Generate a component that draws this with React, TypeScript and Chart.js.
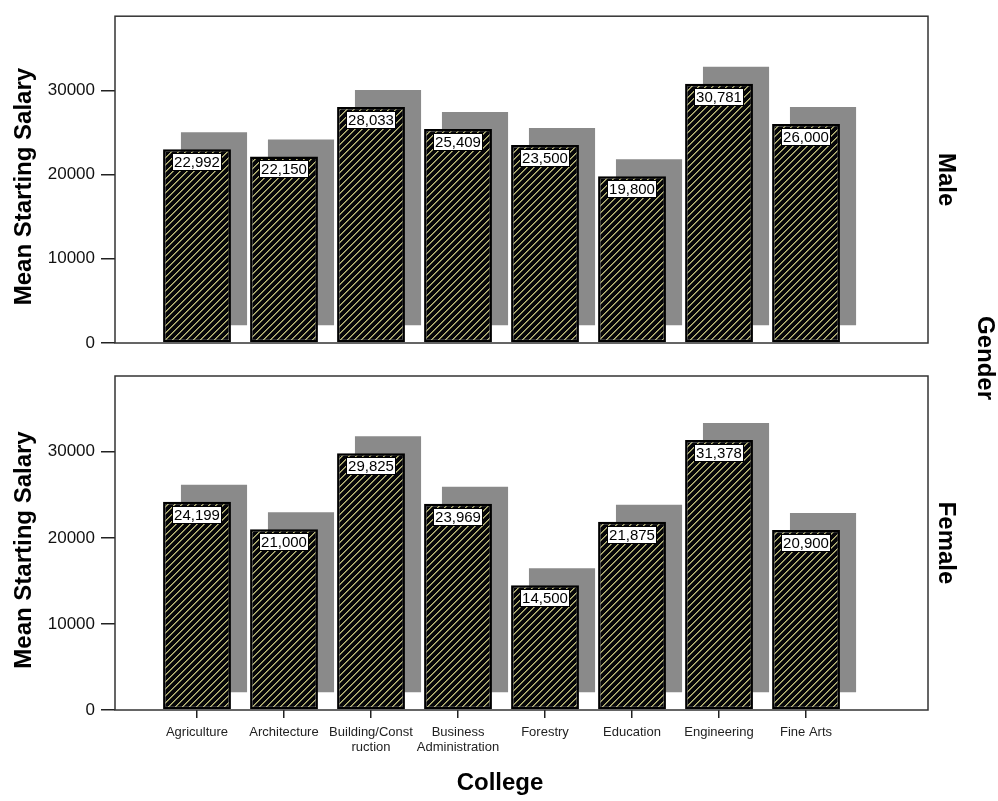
import React, { useEffect, useRef } from 'react';
import { Chart, registerables } from 'chart.js';

Chart.register(...registerables);

const FONT = '"Liberation Sans", Arial, Helvetica, sans-serif';

// ---- data ----
const colleges = [
  'Agriculture',
  'Architecture',
  'Building/Construction',
  'Business Administration',
  'Forestry',
  'Education',
  'Engineering',
  'Fine Arts',
];
const collegeTickLabels = [
  ['Agriculture'],
  ['Architecture'],
  ['Building/Const', 'ruction'],
  ['Business', 'Administration'],
  ['Forestry'],
  ['Education'],
  ['Engineering'],
  ['Fine Arts'],
];
const maleSalary = [22992, 22150, 28033, 25409, 23500, 19800, 30781, 26000];
const femaleSalary = [24199, 21000, 29825, 23969, 14500, 21875, 31378, 20900];
const salaryTicks = [0, 10000, 20000, 30000];
const SALARY_MAX = 38800;
const yAxisTitle = 'Mean Starting Salary';
const xAxisTitle = 'College';
const panelTitle = 'Gender';
const genderLabels = ['Male', 'Female'];

// ---- layout constants ----
const X_MIN = -0.9425;
const X_MAX = 8.402;
const SHADOW_DX = 17;
const SHADOW_DY = -17;

function makeHatch(): CanvasPattern | string {
  const s = 7;
  const c = document.createElement('canvas');
  c.width = s;
  c.height = s;
  const g = c.getContext('2d');
  if (!g) return '#222';
  g.fillStyle = '#050508';
  g.fillRect(0, 0, s, s);
  for (let y = 0; y < s; y++) {
    for (let x = 0; x < s; x++) {
      const k = (x + y) % s;
      if (k === 0) {
        g.fillStyle = '#bdbb78';
        g.fillRect(x, y, 1, 1);
      } else if (k === 1) {
        g.fillStyle = '#7d7c55';
        g.fillRect(x, y, 1, 1);
      }
    }
  }
  return g.createPattern(c, 'repeat') || '#222';
}

type PanelOpts = {
  values: number[];
  gender: string;
  showX: boolean;
  canvasTop: number;
  padTop: number;
  padBottom: number;
  xHeight: number;
  showGender: boolean;
};

function buildChart(canvas: HTMLCanvasElement, o: PanelOpts) {
  const hatch = makeHatch();
  const points = o.values.map((v, i) => ({ x: i, y: v }));
  const shadowPoints = o.values.map((v, i) => ({ x: i, y: v }));

  const shadowPlugin = {
    id: 'shadowShift',
    beforeDatasetDraw(chart: any, args: any) {
      if (args.index === 1) {
        chart.ctx.save();
        chart.ctx.translate(SHADOW_DX, SHADOW_DY);
      }
    },
    afterDatasetDraw(chart: any, args: any) {
      if (args.index === 1) chart.ctx.restore();
    },
  };

  const decorPlugin = {
    id: 'decor',
    afterDatasetsDraw(chart: any) {
      const ctx = chart.ctx as CanvasRenderingContext2D;
      const meta = chart.getDatasetMeta(0);
      ctx.save();
      ctx.font = `15px ${FONT}`;
      meta.data.forEach((el: any, i: number) => {
        const txt = o.values[i].toLocaleString('en-US');
        const w = Math.round(ctx.measureText(txt).width + 4);
        const h = 18;
        const x = Math.round(el.x - w / 2);
        const y = Math.round(el.y + 4);
        ctx.fillStyle = '#fff';
        ctx.fillRect(x, y, w, h);
        ctx.strokeStyle = '#000';
        ctx.lineWidth = 1;
        ctx.strokeRect(x + 0.5, y + 0.5, w - 1, h - 1);
        ctx.fillStyle = '#000';
        ctx.textAlign = 'center';
        ctx.textBaseline = 'middle';
        ctx.fillText(txt, el.x, y + h / 2 + 1);
      });
      ctx.restore();
    },
    afterDraw(chart: any) {
      const ctx = chart.ctx as CanvasRenderingContext2D;
      const a = chart.chartArea;
      ctx.save();
      // frame
      ctx.strokeStyle = '#333';
      ctx.lineWidth = 1.5;
      ctx.strokeRect(a.left, a.top, a.right - a.left, a.bottom - a.top);
      // y title
      const cy = (a.top + a.bottom) / 2;
      ctx.fillStyle = '#000';
      ctx.font = `bold 24px ${FONT}`;
      ctx.textAlign = 'center';
      ctx.textBaseline = 'middle';
      ctx.save();
      ctx.translate(24, cy + 7);
      ctx.rotate(-Math.PI / 2);
      ctx.fillText(yAxisTitle, 0, 0);
      ctx.restore();
      // gender level label
      ctx.save();
      ctx.translate(946, cy);
      ctx.rotate(Math.PI / 2);
      ctx.fillText(o.gender, 0, 0);
      ctx.restore();
      if (o.showGender) {
        ctx.save();
        ctx.translate(985, 358 - o.canvasTop);
        ctx.rotate(Math.PI / 2);
        ctx.fillText(panelTitle, 0, 0);
        ctx.restore();
      }
      if (o.showX) {
        ctx.textBaseline = 'alphabetic';
        ctx.fillText(xAxisTitle, 500, 790 - o.canvasTop);
      }
      ctx.restore();
    },
  };

  return new Chart(canvas, {
    type: 'bar',
    data: {
      datasets: [
        {
          label: o.gender,
          data: points,
          backgroundColor: hatch as any,
          borderColor: '#000',
          borderWidth: 2.5,
          borderSkipped: false,
          barPercentage: 0.78,
          categoryPercentage: 1,
          grouped: false,
        },
        {
          label: o.gender + ' (shadow)',
          data: shadowPoints,
          backgroundColor: '#8a8a8a',
          borderWidth: 0,
          barPercentage: 0.76,
          categoryPercentage: 1,
          grouped: false,
        },
      ],
    },
    options: {
      responsive: false,
      animation: false,
      devicePixelRatio: 1,
      layout: { padding: { left: 0, right: 70, top: o.padTop, bottom: o.padBottom } },
      plugins: {
        legend: { display: false },
        tooltip: { enabled: false },
        title: { display: false },
      },
      scales: {
        x: {
          type: 'linear',
          min: X_MIN,
          max: X_MAX,
          offset: false,
          bounds: 'data',
          afterBuildTicks: (s: any) => {
            s.ticks = colleges.map((_, i) => ({ value: i }));
          },
          afterFit: (s: any) => {
            s.height = o.xHeight;
          },
          ticks: {
            display: o.showX,
            autoSkip: false,
            maxRotation: 0,
            minRotation: 0,
            padding: 7,
            color: '#222',
            font: { family: FONT, size: 13, lineHeight: 1.15 },
            callback: (v: any) => collegeTickLabels[Math.round(Number(v))] || '',
          },
          grid: {
            offset: false,
            drawOnChartArea: false,
            drawTicks: o.showX,
            tickLength: 8,
            color: '#222',
            lineWidth: 1.5,
          },
          border: { display: false },
        },
        y: {
          type: 'linear',
          min: 0,
          max: SALARY_MAX,
          bounds: 'data',
          afterBuildTicks: (s: any) => {
            s.ticks = salaryTicks.map((v) => ({ value: v }));
          },
          afterFit: (s: any) => {
            s.width = 115;
          },
          ticks: {
            padding: 6,
            color: '#111',
            font: { family: FONT, size: 17 },
            callback: (v: any) => String(v),
          },
          grid: {
            drawOnChartArea: false,
            drawTicks: true,
            tickLength: 14,
            color: '#222',
            lineWidth: 1.5,
          },
          border: { display: false },
        },
      },
    } as any,
    plugins: [shadowPlugin, decorPlugin],
  });
}

export default function App() {
  const topRef = useRef<HTMLCanvasElement>(null);
  const botRef = useRef<HTMLCanvasElement>(null);

  useEffect(() => {
    const charts: Chart[] = [];
    if (topRef.current) {
      charts.push(
        buildChart(topRef.current, {
          values: maleSalary,
          gender: genderLabels[0],
          showX: false,
          canvasTop: 0,
          padTop: 8,
          padBottom: 17,
          xHeight: 0,
          showGender: false,
        })
      );
    }
    if (botRef.current) {
      charts.push(
        buildChart(botRef.current, {
          values: femaleSalary,
          gender: genderLabels[1],
          showX: true,
          canvasTop: 300,
          padTop: 76,
          padBottom: 0,
          xHeight: 91,
          showGender: true,
        })
      );
    }
    return () => charts.forEach((c) => c.destroy());
  }, []);

  return (
    <div
      style={{
        position: 'absolute',
        left: 0,
        top: 0,
        width: 998,
        height: 801,
        background: '#fff',
        overflow: 'hidden',
      }}
    >
      <canvas
        ref={topRef}
        width={998}
        height={360}
        style={{ position: 'absolute', left: 0, top: 0, display: 'block' }}
      />
      <canvas
        ref={botRef}
        width={998}
        height={501}
        style={{ position: 'absolute', left: 0, top: 300, display: 'block' }}
      />
    </div>
  );
}
